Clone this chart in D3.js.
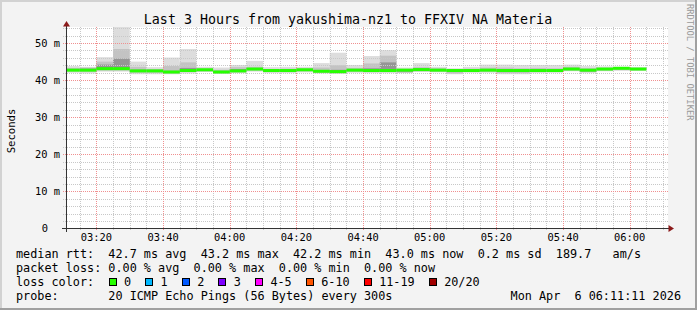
<!DOCTYPE html>
<html><head><meta charset="utf-8">
<script src="https://cdn.jsdelivr.net/npm/d3@7"></script>
<style>
html,body{margin:0;padding:0;background:#f3f3f3;}
svg{display:block;}
text{font-family:"DejaVu Sans Mono",monospace;fill:#000;white-space:pre;}
</style>
</head><body>
<svg id="chart" width="697" height="310"></svg>
<script>
// ---------- data ----------
const stepStarts = ["03:10","03:15","03:20","03:25","03:30","03:35","03:40","03:45","03:50","03:55",
  "04:00","04:05","04:10","04:15","04:20","04:25","04:30","04:35","04:40","04:45",
  "04:50","04:55","05:00","05:05","05:10","05:15","05:20","05:25","05:30","05:35",
  "05:40","05:45","05:50","05:55","06:00"];
const medianRtt = [42.7,42.7,43.1,43.1,42.5,42.5,42.2,42.6,42.8,42.2,
  42.5,43.0,42.6,42.6,42.8,42.4,42.3,42.7,42.6,42.6,
  42.7,42.85,42.7,42.6,42.6,42.7,42.6,42.6,42.6,42.6,
  43.0,42.7,43.0,43.2,43.0];
const maxRtt = [43.8,43.6,46.2,54.6,45.0,43.5,46.1,48.4,43.6,43.4,
  44.1,45.2,43.5,43.6,43.6,44.6,47.4,44.1,46.5,48.1,
  43.4,44.6,43.6,43.2,43.6,44.2,44.2,44.1,44.1,44.1,
  44.2,43.8,43.7,43.6,43.5];
const upper2Rtt = [43.3,43.4,45.0,48.4,43.6,43.0,43.8,44.8,43.2,42.8,
  43.5,43.6,43.0,43.1,43.2,43.4,44.0,43.3,44.5,46.6,
  43.0,43.5,43.2,42.9,43.1,43.4,43.4,43.2,43.3,43.2,
  43.6,43.2,43.3,43.5,43.3];
const upper3Rtt = [42.9,43.1,44.2,45.8,42.8,42.7,42.5,43.3,43.0,42.4,
  43.0,43.2,42.8,42.8,43.0,42.7,42.8,42.9,43.2,44.8,
  42.9,43.1,42.9,42.8,42.8,42.9,42.8,42.8,42.8,42.8,
  43.2,42.9,43.2,43.4,43.2];
const lower3Rtt = [42.6,42.5,42.9,42.9,42.3,42.3,42.0,42.4,42.6,42.0,
  42.3,42.8,42.4,42.4,42.6,42.2,42.1,42.5,42.4,42.4,
  42.3,42.6,42.5,42.2,42.4,42.5,42.3,42.3,42.4,42.4,
  42.8,42.4,42.8,43.0,42.9];
const lower2Rtt = [42.4,42.3,42.6,42.6,42.0,42.0,41.8,42.2,42.4,41.9,
  42.1,42.6,42.2,42.2,42.4,42.0,41.9,42.3,42.2,42.2,
  42.0,42.4,42.3,41.8,42.2,42.3,41.9,41.9,42.2,42.2,
  42.6,42.2,42.6,42.8,42.7];
const minRtt = [42.0,41.8,42.3,42.3,41.6,41.6,41.6,41.8,42.2,41.7,
  41.9,42.3,41.9,41.9,42.1,41.8,41.7,42.0,41.9,41.9,
  41.9,42.2,42.1,41.6,42.0,42.0,41.6,41.6,41.9,42.0,
  42.4,41.9,42.4,42.5,42.5];
const lossCount = [0,0,0,0,0,0,0,0,0,0,0,0,0,0,0,0,0,0,0,0,0,0,0,0,0,0,0,0,0,0,0,0,0,0,0];

const yTickValues = [0,10,20,30,40,50];
const yTickLabels = ["0","10 m","20 m","30 m","40 m","50 m"];
const xTickLabels = ["03:20","03:40","04:00","04:20","04:40","05:00","05:20","05:40","06:00"];

const lossLabels = ["0","1","2","3","4-5","6-10","11-19","20/20"];
const lossColors = ["#26ff00","#00b8ff","#0059ff","#7e00ff","#ff00ff","#ff5500","#ff0000","#a10000"];
const lossUpper = [0,1,2,3,5,10,19,20];

const titleText = "Last 3 Hours from yakushima-nz1 to FFXIV NA Materia";
const legendLines = [
  "median rtt:  42.7 ms avg  43.2 ms max  42.2 ms min  43.0 ms now  0.2 ms sd  189.7   am/s",
  "packet loss: 0.00 % avg  0.00 % max  0.00 % min  0.00 % now",
  "loss color:",
  "probe:       20 ICMP Echo Pings (56 Bytes) every 300s"
];
const stampText = "Mon Apr  6 06:11:11 2026";

// ---------- layout ----------
const W = 697, H = 310;
const X0 = 67, X1 = 667, Y0 = 228.5, YT = 27.5;
const LEGEND_FS = 11.8, CH = LEGEND_FS * 0.602;
const day = (h, m, s) => new Date(2026, 3, 6, h, m, s || 0);
const parseHM = s => { const [h, m] = s.split(":").map(Number); return day(h, m); };
const tStart = day(3, 11, 11), tEnd = day(6, 11, 11);

const x = d3.scaleTime().domain([tStart, tEnd]).range([X0, X1]);
const y = d3.scaleLinear().domain([0, 54.2]).range([Y0, YT]);

const svg = d3.select("#chart");

// background and frame
svg.append("rect").attr("width", W).attr("height", H).attr("fill", "#f3f3f3");
svg.append("rect").attr("x", 0).attr("y", 0).attr("width", W).attr("height", 2).attr("fill", "#d2d2d2");
svg.append("rect").attr("x", 0).attr("y", 0).attr("width", 2).attr("height", H).attr("fill", "#d2d2d2");
svg.append("rect").attr("x", 0).attr("y", H - 2).attr("width", W).attr("height", 2).attr("fill", "#a0a0a0");
svg.append("rect").attr("x", W - 2).attr("y", 0).attr("width", 2).attr("height", H).attr("fill", "#a0a0a0");

// canvas
svg.append("rect").attr("x", X0).attr("y", 27).attr("width", X1 - X0 + 1).attr("height", 201).attr("fill", "#ffffff");

const smokeG = svg.append("g");

// smoke
const steps = stepStarts.map((s, i) => {
  const t0 = parseHM(s);
  const t1 = d3.timeMinute.offset(t0, 5);
  const xa = Math.max(x(t0), X0), xb = Math.min(x(t1), X1);
  return {i, xa, xb};
});
const bands = [
  {hi: maxRtt, lo: minRtt, color: "#dddddd"},
  {hi: upper2Rtt, lo: lower2Rtt, color: "#c3c3c3"},
  {hi: upper3Rtt, lo: lower3Rtt, color: "#959595"}
];
bands.forEach(b => {
  smokeG.append("g").selectAll("rect").data(steps).join("rect")
    .attr("x", d => d.xa)
    .attr("width", d => d.xb - d.xa)
    .attr("y", d => Math.max(y(b.hi[d.i]), 27))
    .attr("height", d => y(b.lo[d.i]) - Math.max(y(b.hi[d.i]), 27))
    .attr("fill", b.color);
});

// grid
const gridG = svg.append("g").attr("shape-rendering", "crispEdges");
const minorY = d3.range(2, 55, 2).filter(v => v % 10 !== 0);
const majorY = yTickValues.filter(v => v > 0);
const snap = v => Math.round(v) + 0.5;
gridG.selectAll(".mny").data(minorY).join("line")
  .attr("x1", 63).attr("x2", 669)
  .attr("y1", d => snap(y(d))).attr("y2", d => snap(y(d)))
  .attr("stroke", "#c8c8c8").attr("stroke-dasharray", "1,1");
const minorX = d3.timeMinute.every(5).range(d3.timeMinute.offset(tStart, 1), tEnd)
  .filter(t => t.getMinutes() % 20 !== 0);
const majorX = xTickLabels.map(parseHM);
gridG.selectAll(".mnx").data(minorX).join("line")
  .attr("x1", d => snap(x(d))).attr("x2", d => snap(x(d)))
  .attr("y1", 27).attr("y2", 231)
  .attr("stroke", "#c8c8c8").attr("stroke-dasharray", "1,1");
gridG.selectAll(".mjy").data(majorY).join("line")
  .attr("x1", 63).attr("x2", 669)
  .attr("y1", d => snap(y(d))).attr("y2", d => snap(y(d)))
  .attr("stroke", "#f09090").attr("stroke-dasharray", "1,1");
gridG.selectAll(".mjx").data(majorX).join("line")
  .attr("x1", d => snap(x(d))).attr("x2", d => snap(x(d)))
  .attr("y1", 27).attr("y2", 231)
  .attr("stroke", "#f09090").attr("stroke-dasharray", "1,1");

// median line coloured by loss
const lossColor = c => lossColors[lossUpper.findIndex(u => c <= u)];
svg.append("g").selectAll("rect").data(steps).join("rect")
  .attr("x", d => d.xa)
  .attr("width", d => d.xb - d.xa)
  .attr("y", d => y(medianRtt[d.i]) - 1.5)
  .attr("height", 3)
  .attr("fill", d => lossColor(lossCount[d.i]));

// axes
const axG = svg.append("g").attr("shape-rendering", "crispEdges");
axG.append("line").attr("x1", 62).attr("x2", 670).attr("y1", Y0).attr("y2", Y0).attr("stroke", "#333");
axG.append("line").attr("x1", 66.5).attr("x2", 66.5).attr("y1", 232).attr("y2", 24).attr("stroke", "#333");
svg.append("path").attr("d", "M668.5,225 L674,228.5 L668.5,232 Z").attr("fill", "#8b1a1a");
svg.append("path").attr("d", "M63,26.5 L66.5,21 L70,26.5 Z").attr("fill", "#8b1a1a");

// y labels
svg.append("g").selectAll("text").data(yTickValues).join("text")
  .attr("x", d => d === 0 ? 48 : 60)
  .attr("y", d => y(d) + 3.7)
  .attr("text-anchor", "end")
  .attr("font-size", "10.4px")
  .text((d, i) => yTickLabels[i]);

// x labels
svg.append("g").selectAll("text").data(majorX).join("text")
  .attr("x", d => x(d))
  .attr("y", 241)
  .attr("text-anchor", "middle")
  .attr("font-size", "10.4px")
  .text((d, i) => xTickLabels[i]);

// y title
svg.append("text").attr("transform", "translate(15,131) rotate(-90)")
  .attr("text-anchor", "middle").attr("font-size", "10.6px").text("Seconds");

// title
svg.append("text").attr("x", 348).attr("y", 24).attr("text-anchor", "middle")
  .attr("font-size", "13.3px").text(titleText);

// watermark
svg.append("text").attr("transform", "translate(687,4) rotate(90)")
  .attr("font-size", "8.8px").style("fill", "#9a9a9a").text("RRDTOOL / TOBI OETIKER");

// legend
const baselines = [257.7, 271.7, 285.7, 300];
svg.append("g").selectAll("text").data(legendLines).join("text")
  .attr("x", 16).attr("y", (d, i) => baselines[i])
  .attr("font-size", LEGEND_FS + "px")
  .attr("xml:space", "preserve")
  .text(d => d);
svg.append("text").attr("x", 681).attr("y", baselines[3]).attr("text-anchor", "end")
  .attr("font-size", LEGEND_FS + "px").attr("xml:space", "preserve").text(stampText);

// loss colour boxes
let bx = 108.5;
const lossItems = lossLabels.map((lab, i) => {
  const item = {lab, color: lossColors[i], bx, tx: bx + 15.5};
  bx = item.tx + lab.length * CH + 14;
  return item;
});
const lg = svg.append("g");
lg.selectAll("rect").data(lossItems).join("rect")
  .attr("x", d => Math.round(d.bx) + 0.5).attr("y", 278.5)
  .attr("width", 7).attr("height", 7)
  .attr("fill", d => d.color).attr("stroke", "#000").attr("stroke-width", 1)
  .attr("shape-rendering", "crispEdges");
lg.selectAll("text").data(lossItems).join("text")
  .attr("x", d => d.tx).attr("y", baselines[2])
  .attr("font-size", LEGEND_FS + "px")
  .text(d => d.lab);
</script>
</body></html>
